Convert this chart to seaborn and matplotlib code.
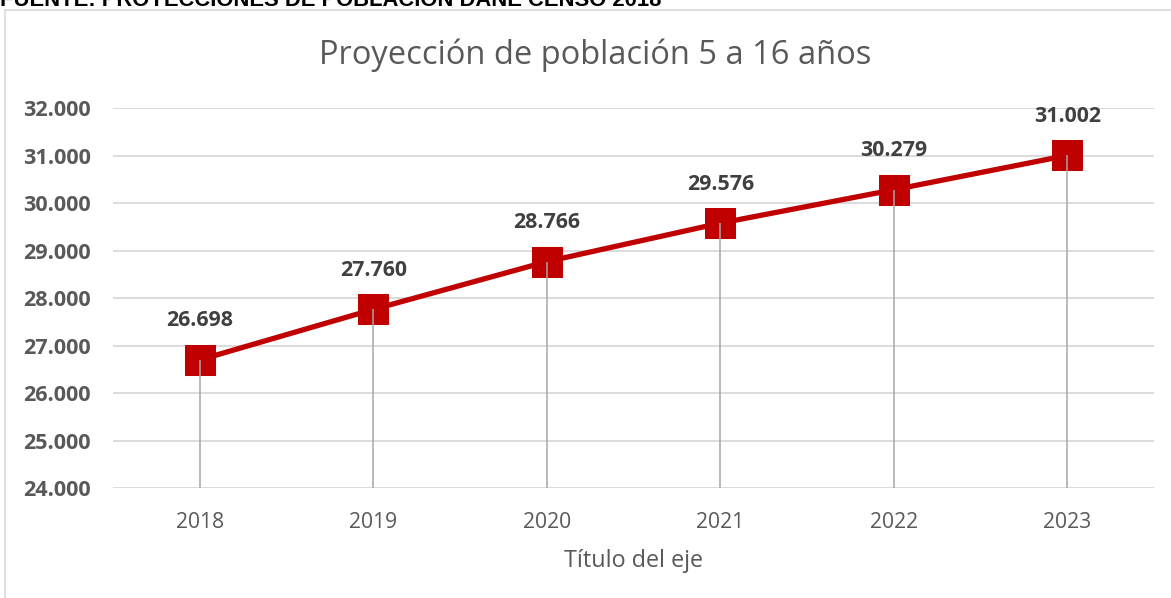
import matplotlib
matplotlib.use("Agg")
import matplotlib.pyplot as plt
from matplotlib.patches import Rectangle
from matplotlib.ticker import FuncFormatter
import seaborn as sns
import pandas as pd

years = [2018, 2019, 2020, 2021, 2022, 2023]
poblacion = [26698, 27760, 28766, 29576, 30279, 31002]
y_ticks = [24000, 25000, 26000, 27000, 28000, 29000, 30000, 31000, 32000]

title = "Proyección de población 5 a 16 años"
x_label = "Título del eje"
header = "FUENTE: PROYECCIONES DE POBLACIÓN DANE CENSO 2018"

RED = "#C00000"
GRID = "#D9D9D9"


def miles(v, pos=None):
    return f"{int(v):,}".replace(",", ".")


sns.set_style("white")
plt.rcParams["font.family"] = ["Open Sans", "DejaVu Sans"]

df = pd.DataFrame({"anio": years, "poblacion": poblacion})

fig = plt.figure(figsize=(11.71, 5.98), dpi=100)
ax = fig.add_axes([0.0965, 0.1839, 0.889, 0.6355])

# chart frame and header
fig.patches.append(Rectangle((5 / 1171, -0.1), 1.2, 1 - 10 / 598 + 0.1,
                             transform=fig.transFigure, fill=False,
                             edgecolor=GRID, linewidth=1.2))
fig.text(0.0, 1 - 0.5 / 598, header, ha="left", va="center", fontsize=15.8,
         fontweight="bold", family="Liberation Sans", color="black")

sns.lineplot(data=df, x="anio", y="poblacion", ax=ax, color=RED, linewidth=3.8,
             marker="s", markersize=21, markeredgecolor=RED, zorder=3)
ax.vlines(df["anio"], y_ticks[0], df["poblacion"], color="#A6A6A6",
          linewidth=1.1, zorder=4)

for x, y in zip(years, poblacion):
    ax.annotate(miles(y), (x, y), xytext=(0, 28), textcoords="offset points",
                ha="center", va="center", fontsize=15.4, fontweight="bold",
                color="#404040")

ax.set_xlim(years[0] - 0.5, years[-1] + 0.5)
ax.set_ylim(y_ticks[0], y_ticks[-1])
ax.set_yticks(y_ticks)
ax.set_xticks(years)
ax.yaxis.set_major_formatter(FuncFormatter(miles))
ax.grid(axis="y", color=GRID, linewidth=1.3)
ax.set_axisbelow(True)
for s in ax.spines.values():
    s.set_visible(False)

ax.tick_params(axis="y", length=0, pad=16, labelsize=15.6, labelcolor="#595959")
ax.tick_params(axis="x", length=0, pad=17, labelsize=15.2, labelcolor="#595959")
for lbl in ax.get_yticklabels():
    lbl.set_fontweight("bold")

ax.set_xlabel(x_label, fontsize=16.8, color="#595959", labelpad=12)
ax.set_ylabel("")
fig.text(595 / 1171, 1 - 55 / 598, title, ha="center", va="center", fontsize=23.5,
         color="#595959")

fig.savefig("out.png", dpi=100)
